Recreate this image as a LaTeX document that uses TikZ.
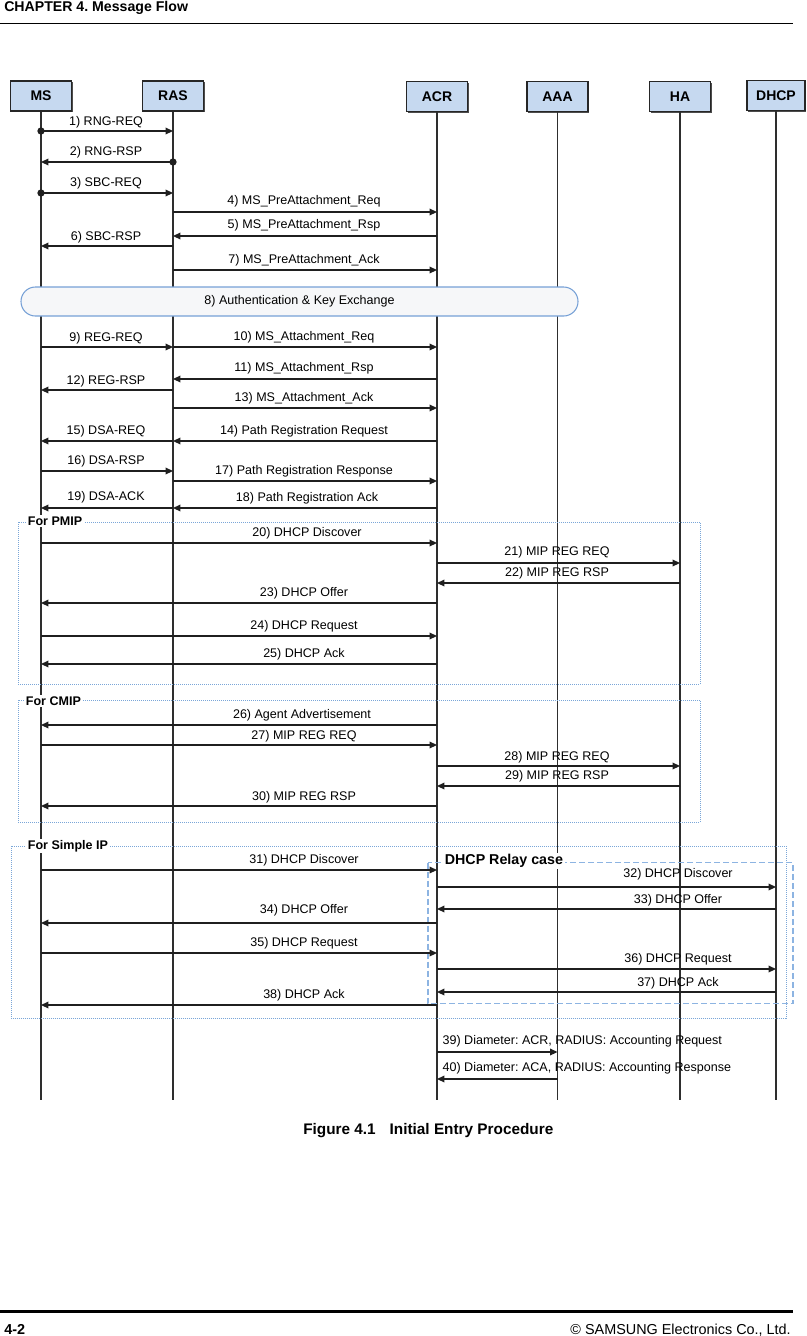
\documentclass[tikz,border=0pt]{standalone}
\usepackage{fontspec}
\setmainfont{Liberation Sans}
\usetikzlibrary{arrows.meta,shadows}
\frenchspacing
\definecolor{boxblue}{RGB}{198,217,240}
\definecolor{authfill}{RGB}{246,247,249}
\definecolor{authdraw}{RGB}{118,160,214}
\definecolor{grpblue}{RGB}{122,166,216}
\definecolor{relayblue}{RGB}{141,180,226}
\newcommand\lblfont{\fontsize{9.4}{11}\selectfont}
% #1 extra options, #2 from, #3 to, #4 y, #5 label x, #6 label y, #7 text
\newcommand\msgarrow[7][]{%
  \draw[msgline,#1] (#2 |- 0,#4) -- (#3 |- 0,#4)
    node[lbl] at (#5,#6) {#7};}
\begin{document}
\frenchspacing
\begin{tikzpicture}[x=0.75pt,y=-0.75pt,
  actor/.style={draw=black!85, line width=0.8pt, fill=boxblue,
    minimum width=45.75pt, minimum height=22.5pt, inner sep=0pt,
    font=\bfseries\fontsize{10.5}{12}\selectfont,
    drop shadow={shadow xshift=0.9pt, shadow yshift=-0.9pt, fill=black!70, opacity=1}},
  life/.style={draw=black!82, line width=1.2pt},
  msgline/.style={draw=black!88, line width=0.95pt, -{Triangle[length=5.6pt,width=5pt]}},
  dotstart/.style={{Circle[length=5.4pt]}-{Triangle[length=5.6pt,width=5pt]}, shorten <=-2.7pt},
  lbl/.style={font=\lblfont, inner sep=0pt, anchor=center, yshift=-1.1pt},
  grp/.style={draw=grpblue, line width=0.75pt, dash pattern=on 0.75pt off 0.75pt},
  relay/.style={draw=relayblue, line width=0.8pt, dash pattern=on 4.5pt off 2.25pt},
  grplbl/.style={font=\bfseries\lblfont, fill=white, inner sep=1.2pt, anchor=west},
]
\useasboundingbox (0,0) rectangle (807,1336);

% page header / footer
\node[anchor=base west, inner sep=0pt, font=\bfseries\fontsize{10.6}{12}\selectfont] (hdr) at (4,11.5) {CHAPTER 4. Message Flow};
\draw[line width=0.8pt] (0,23.5) -- (793,23.5);
\draw[line width=1.6pt] (0,1311.5) -- (793,1311.5);
\node[anchor=base west, inner sep=0pt, font=\bfseries\fontsize{10.8}{12}\selectfont] (pg) at (4,1334) {4-2};
\node[anchor=base east, inner sep=0pt, font=\fontsize{10.8}{12}\selectfont] (copy) at (791,1334) {© SAMSUNG Electronics Co., Ltd.};
\node[anchor=base west, inner sep=0pt, font=\bfseries\fontsize{11.5}{13}\selectfont] (cap) at (303,1134.5) {Figure 4.1\hspace{10.5pt}Initial Entry Procedure};

% actors
\node[actor] (MS) at (41,96) {MS};
\node[actor] (RAS) at (173,96) {RAS};
\node[actor] (ACR) at (437,96.5) {ACR};
\node[actor] (AAA) at (557.5,96.5) {AAA};
\node[actor] (HA) at (680,96.5) {HA};
\node[actor, minimum width=43.5pt] (DHCP) at (776,95.5) {DHCP};

% lifelines
\foreach \a in {MS,RAS,ACR,AAA,HA,DHCP}
  \draw[life] (\a.south) -- (\a |- 0,1100);

% authentication box
\node[draw=authdraw, fill=authfill, line width=0.8pt, rounded corners=10.8pt,
  minimum width=417.75pt, minimum height=21.75pt, font=\lblfont] (auth) at (299.5,301.5)
  {8) Authentication \& Key Exchange};

% group frames
\draw[grp] (18,522) rectangle (700,684);
\node[grplbl] (gPMIP) at (26,521) {For PMIP};
\draw[grp] (18,700) rectangle (700,822);
\node[grplbl] (gCMIP) at (24,701) {For CMIP};
\draw[grp] (11,846) rectangle (786.5,1018.5);
\node[grplbl] (gSIP) at (26,846) {For Simple IP};
\draw[relay] (428,862.5) rectangle (793,1003.5);
\node[grplbl, font=\bfseries\fontsize{10.7}{12}\selectfont] (gRelay) at (443,861) {DHCP Relay case};

% messages
\msgarrow[dotstart]{MS}{RAS}{131}{106}{121}{1) RNG-REQ}
\msgarrow[dotstart]{RAS}{MS}{162}{106}{151}{2) RNG-RSP}
\msgarrow[dotstart]{MS}{RAS}{193}{106}{182}{3) SBC-REQ}
\msgarrow{RAS}{ACR}{212}{304}{200}{4) MS\_PreAttachment\_Req}
\msgarrow{ACR}{RAS}{236}{304}{224}{5) MS\_PreAttachment\_Rsp}
\msgarrow{RAS}{MS}{246}{106}{236}{6) SBC-RSP}
\msgarrow{RAS}{ACR}{270}{304}{259}{7) MS\_PreAttachment\_Ack}
\msgarrow{MS}{RAS}{347}{106}{337}{9) REG-REQ}
\msgarrow{RAS}{ACR}{347}{304}{336}{10) MS\_Attachment\_Req}
\msgarrow{ACR}{RAS}{379}{304}{367}{11) MS\_Attachment\_Rsp}
\msgarrow{RAS}{MS}{390}{106}{380}{12) REG-RSP}
\msgarrow{RAS}{ACR}{408}{304}{397}{13) MS\_Attachment\_Ack}
\msgarrow{ACR}{RAS}{441}{304}{430}{14) Path Registration Request}
\msgarrow{RAS}{MS}{441}{106}{430}{15) DSA-REQ}
\msgarrow{MS}{RAS}{471}{106}{460}{16) DSA-RSP}
\msgarrow{RAS}{ACR}{481}{304}{470}{17) Path Registration Response}
\msgarrow{ACR}{RAS}{508}{307}{497}{18) Path Registration Ack}
\msgarrow{RAS}{MS}{508}{106}{496}{19) DSA-ACK}
% PMIP
\msgarrow{MS}{ACR}{543}{307}{532}{20) DHCP Discover}
\msgarrow{ACR}{HA}{563}{557}{551}{21) MIP REG REQ}
\msgarrow{HA}{ACR}{583}{557}{572}{22) MIP REG RSP}
\msgarrow{ACR}{MS}{603}{304}{592}{23) DHCP Offer}
\msgarrow{MS}{ACR}{636}{304}{625}{24) DHCP Request}
\msgarrow{ACR}{MS}{664}{304}{653}{25) DHCP Ack}
% CMIP
\msgarrow{ACR}{MS}{725}{302}{714}{26) Agent Advertisement}
\msgarrow{MS}{ACR}{745}{304}{735}{27) MIP REG REQ}
\msgarrow{ACR}{HA}{766}{557}{756}{28) MIP REG REQ}
\msgarrow{HA}{ACR}{786}{557}{775}{29) MIP REG RSP}
\msgarrow{ACR}{MS}{806}{304}{796}{30) MIP REG RSP}
% Simple IP
\msgarrow{MS}{ACR}{870}{304}{859}{31) DHCP Discover}
\msgarrow{ACR}{DHCP}{887}{678}{873}{32) DHCP Discover}
\msgarrow{DHCP}{ACR}{909}{678}{899}{33) DHCP Offer}
\msgarrow{ACR}{MS}{923}{304}{909}{34) DHCP Offer}
\msgarrow{MS}{ACR}{953}{304}{942}{35) DHCP Request}
\msgarrow{ACR}{DHCP}{969}{678}{958}{36) DHCP Request}
\msgarrow{DHCP}{ACR}{992}{678}{982}{37) DHCP Ack}
\msgarrow{ACR}{MS}{1005}{304}{994}{38) DHCP Ack}
% accounting
\draw[msgline] (ACR |- 0,1052) -- (AAA |- 0,1052)
  node[lbl, anchor=west] at (442,1040) {39) Diameter: ACR, RADIUS: Accounting Request};
\draw[msgline] (AAA |- 0,1079) -- (ACR |- 0,1079)
  node[lbl, anchor=west] at (442,1067) {40) Diameter: ACA, RADIUS: Accounting Response};
\end{tikzpicture}
\end{document}
